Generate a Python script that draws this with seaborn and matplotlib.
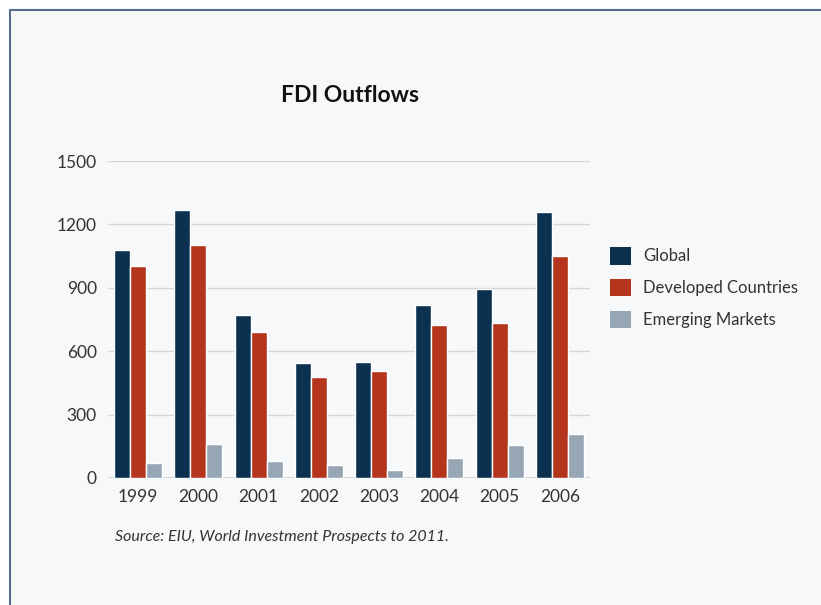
import matplotlib
matplotlib.use("Agg")
import matplotlib.pyplot as plt
import seaborn as sns
import pandas as pd
from matplotlib.patches import Rectangle, Patch

years = ["1999", "2000", "2001", "2002", "2003", "2004", "2005", "2006"]
global_vals = [1078, 1268, 770, 542, 547, 817, 893, 1258]
developed_vals = [1002, 1102, 689, 476, 504, 722, 732, 1050]
emerging_vals = [73, 163, 82, 63, 39, 96, 158, 210]
series_names = ["Global", "Developed Countries", "Emerging Markets"]
colors = ["#0c3150", "#b5341c", "#97a6b4"]
yticks = [0, 300, 600, 900, 1200, 1500]

rows = []
for name, vals in zip(series_names, [global_vals, developed_vals, emerging_vals]):
    for y, v in zip(years, vals):
        rows.append({"Year": y, "Series": name, "Value": v})
df = pd.DataFrame(rows)

sns.set_theme(style="white")
plt.rcParams['font.family'] = ['Lato', 'DejaVu Sans']

fig = plt.figure(figsize=(8.21, 6.05), dpi=100)
fig.patch.set_facecolor("white")
# panel background with border
bg = Rectangle((10/821, -0.1), 1.2, (605-10)/605 + 0.1, transform=fig.transFigure,
               facecolor="#f7f8fa", edgecolor="#566f8c", linewidth=1.5, zorder=-10)
fig.patches.append(bg)

ax = fig.add_axes([108/821, 127/605, (590-108)/821, (478-161)/605])
ax.set_facecolor("none")
sns.barplot(data=df, x="Year", y="Value", hue="Series", palette=colors,
            order=years, hue_order=series_names, width=0.8,
            edgecolor="white", linewidth=1.0, saturation=1, ax=ax, legend=False)

ax.set_ylim(0, 1500)
ax.set_yticks(yticks)
ax.set_yticklabels([str(t) for t in yticks], fontsize=12.5, color="#333333")
ax.set_xticklabels(years, fontsize=12.5, color="#333333")
ax.yaxis.grid(True, color="#d4d6da", linewidth=1)
ax.set_axisbelow(True)
for s in ax.spines.values():
    s.set_visible(False)
ax.tick_params(axis="both", length=0, pad=8)
ax.set_xlabel("")
ax.set_ylabel("")
ax.axhline(0, color="#cfd1d5", linewidth=1.2, zorder=0)

fig.text(350/821, 1 - 95/605, "FDI Outflows", fontsize=16.5, fontweight="bold",
         ha="center", va="center", color="#111111")
fig.text(115/821, 1 - 537/605, "Source: EIU, World Investment Prospects to 2011.",
         fontsize=11.5, fontstyle="italic", ha="left", va="center", color="#333333")

handles = [Patch(facecolor=c, edgecolor="none") for c in colors]
leg = fig.legend(handles, series_names, loc="upper left",
                 bbox_to_anchor=(595/821, 1 - 232/605), frameon=False,
                 fontsize=12, handlelength=1.25, handleheight=1.25,
                 labelspacing=0.85, handletextpad=0.75, labelcolor="#333333")

fig.savefig("out.png", dpi=100, facecolor=fig.get_facecolor())
